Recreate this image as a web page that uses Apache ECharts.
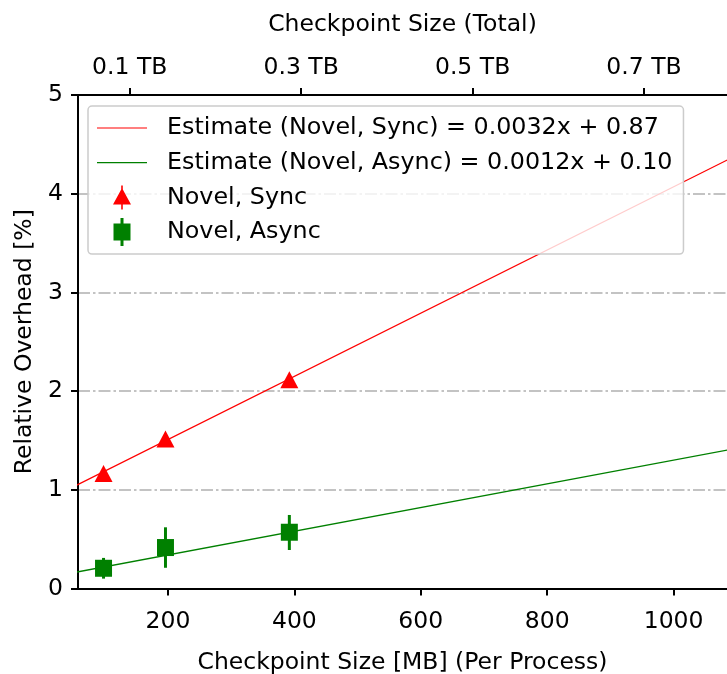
<!DOCTYPE html>
<html>
<head>
<meta charset="utf-8">
<script src="https://cdn.jsdelivr.net/npm/echarts@6/dist/echarts.min.js"></script>
<style>
  html, body { margin: 0; padding: 0; background: #fff; }
  #chart { width: 727px; height: 674px; }
</style>
</head>
<body>
<div id="chart"></div>
<script>
// Per-process checkpoint size (MB) and measured relative overhead (%)
const syncSizes = [98, 196, 392];
const syncOverhead = [1.165, 1.515, 2.115];
const syncLow = [1.14, 1.49, 2.09];
const syncHigh = [1.19, 1.54, 2.14];

const asyncSizes = [98, 196, 392];
const asyncOverhead = [0.205, 0.415, 0.57];
const asyncLow = [0.10, 0.21, 0.39];
const asyncHigh = [0.31, 0.62, 0.745];

// Linear fits stated in the legend
const syncSlope = 0.0032, syncIntercept = 0.87;
const asyncSlope = 0.0012, asyncIntercept = 0.10;
const fitRange = [50, 1100];

// Axis ranges and tick values
const mbRange = [57.6, 1084.5];
const tbRange = [0.0396, 0.7968];
const mbTicks = [200, 400, 600, 800, 1000];
const tbTicks = [0.1, 0.3, 0.5, 0.7];
const overheadTicks = [0, 1, 2, 3, 4, 5];

const RED = '#ff0000';
const GREEN = '#008000';
const FONT = 'DejaVu Sans';
const TICK_SIZE = 23.5;
const TITLE_SIZE = 23.5;

const syncFitName = 'Estimate (Novel, Sync) = ' + syncSlope.toFixed(4) + 'x + ' + syncIntercept.toFixed(2);
const asyncFitName = 'Estimate (Novel, Async) = ' + asyncSlope.toFixed(4) + 'x + ' + asyncIntercept.toFixed(2);
const syncName = 'Novel, Sync';
const asyncName = 'Novel, Async';

const fitLine = (slope, intercept) => fitRange.map(x => [x, slope * x + intercept]);
const zip = (xs, ys) => xs.map((x, i) => [x, ys[i]]);
const zip3 = (xs, lo, hi) => xs.map((x, i) => [x, lo[i], hi[i]]);

// Legend glyphs: tiny corner points pin the bounding box to 65x28
const BOX = 'M0,0h0.01v0.01h-0.01zM64.99,27.99h0.01v0.01h-0.01z';
const lineIcon = 'path://' + BOX + 'M0,13.4h50v1.2h-50z';
const triIcon = 'path://' + BOX + 'M24.2,2h1.6v24h-1.6zM25,4.5L34,21L16,21z';
const sqIcon = 'path://' + BOX + 'M23.5,0h3v28h-3zM16.5,5.5h17v17h-17z';

function errorBar(color, width) {
  return function (params, api) {
    const x = api.value(0);
    const lo = api.coord([x, api.value(1)]);
    const hi = api.coord([x, api.value(2)]);
    return {
      type: 'line',
      shape: { x1: lo[0], y1: lo[1], x2: hi[0], y2: hi[1] },
      style: { stroke: color, lineWidth: width }
    };
  };
}

const axisLine = { show: true, onZero: false, lineStyle: { color: '#000', width: 2 } };
const axisTick = { show: true, inside: false, length: 7, lineStyle: { color: '#000', width: 2 } };
const titleStyle = { fontFamily: FONT, fontSize: TITLE_SIZE, color: '#000' };

const chart = echarts.init(document.getElementById('chart'), null, { renderer: 'canvas' });
chart.setOption({
  animation: false,
  backgroundColor: '#fff',
  textStyle: { fontFamily: FONT, color: '#000' },
  grid: {
    left: 78, right: 0, top: 95, bottom: 85.5,
    containLabel: false, outerBoundsMode: 'none'
  },
  legend: {
    left: 88,
    top: 106,
    orient: 'vertical',
    itemWidth: 65,
    itemHeight: 28,
    itemGap: 6.7,
    padding: [8, 11, 8, 9],
    backgroundColor: 'rgba(255,255,255,0.8)',
    borderColor: '#cccccc',
    borderWidth: 1.5,
    borderRadius: 4,
    selectedMode: false,
    textStyle: { fontFamily: FONT, fontSize: 23.8, color: '#000' },
    data: [
      { name: syncFitName, icon: lineIcon, itemStyle: { borderWidth: 0 } },
      { name: asyncFitName, icon: lineIcon, itemStyle: { borderWidth: 0 } },
      { name: syncName, icon: triIcon, itemStyle: { borderWidth: 0, opacity: 1 } },
      { name: asyncName, icon: sqIcon, itemStyle: { borderWidth: 0, opacity: 1 } }
    ]
  },
  xAxis: [
    {
      type: 'value',
      position: 'bottom',
      min: mbRange[0],
      max: mbRange[1],
      name: 'Checkpoint Size [MB] (Per Process)',
      nameLocation: 'middle',
      nameGap: 62,
      nameTextStyle: titleStyle,
      axisLine: axisLine,
      axisTick: Object.assign({}, axisTick, { customValues: mbTicks }),
      axisLabel: {
        customValues: mbTicks, fontSize: TICK_SIZE, color: '#000', margin: 21, fontFamily: FONT,
        formatter: v => String(v)
      },
      splitLine: { show: false }
    },
    {
      type: 'value',
      position: 'top',
      min: tbRange[0],
      max: tbRange[1],
      name: 'Checkpoint Size (Total)',
      nameLocation: 'middle',
      nameGap: 58,
      nameTextStyle: titleStyle,
      axisLine: axisLine,
      axisTick: Object.assign({}, axisTick, { customValues: tbTicks }),
      axisLabel: {
        customValues: tbTicks, fontSize: TICK_SIZE, color: '#000', margin: 15, fontFamily: FONT,
        formatter: v => v.toFixed(1) + ' TB'
      },
      splitLine: { show: false }
    }
  ],
  yAxis: {
    type: 'value',
    min: overheadTicks[0],
    max: overheadTicks[overheadTicks.length - 1],
    interval: 1,
    name: 'Relative Overhead [%]',
    nameLocation: 'middle',
    nameRotate: 90,
    nameGap: 40,
    nameTextStyle: titleStyle,
    axisLine: axisLine,
    axisTick: axisTick,
    axisLabel: { fontSize: TICK_SIZE, color: '#000', margin: 15, fontFamily: FONT },
    splitLine: {
      show: true,
      lineStyle: { color: '#b0b0b0', width: 1.6, type: [12, 3, 2.5, 3] }
    }
  },
  series: [
    {
      name: syncFitName, type: 'line', data: fitLine(syncSlope, syncIntercept),
      showSymbol: false, symbol: 'none', clip: true, z: 2,
      color: RED, lineStyle: { color: RED, width: 1.3 }
    },
    {
      name: asyncFitName, type: 'line', data: fitLine(asyncSlope, asyncIntercept),
      showSymbol: false, symbol: 'none', clip: true, z: 2,
      color: GREEN, lineStyle: { color: GREEN, width: 1.3 }
    },
    {
      name: 'sync-error', type: 'custom', data: zip3(syncSizes, syncLow, syncHigh),
      encode: { x: 0, y: [1, 2] }, renderItem: errorBar(RED, 3), z: 3
    },
    {
      name: 'async-error', type: 'custom', data: zip3(asyncSizes, asyncLow, asyncHigh),
      encode: { x: 0, y: [1, 2] }, renderItem: errorBar(GREEN, 3), z: 3
    },
    {
      name: syncName, type: 'scatter', data: zip(syncSizes, syncOverhead),
      symbol: 'triangle', symbolSize: [18, 17], color: RED, z: 4,
      itemStyle: { opacity: 1 }
    },
    {
      name: asyncName, type: 'scatter', data: zip(asyncSizes, asyncOverhead),
      symbol: 'rect', symbolSize: [17, 17], color: GREEN, z: 4,
      itemStyle: { opacity: 1 }
    }
  ]
});
</script>
</body>
</html>
